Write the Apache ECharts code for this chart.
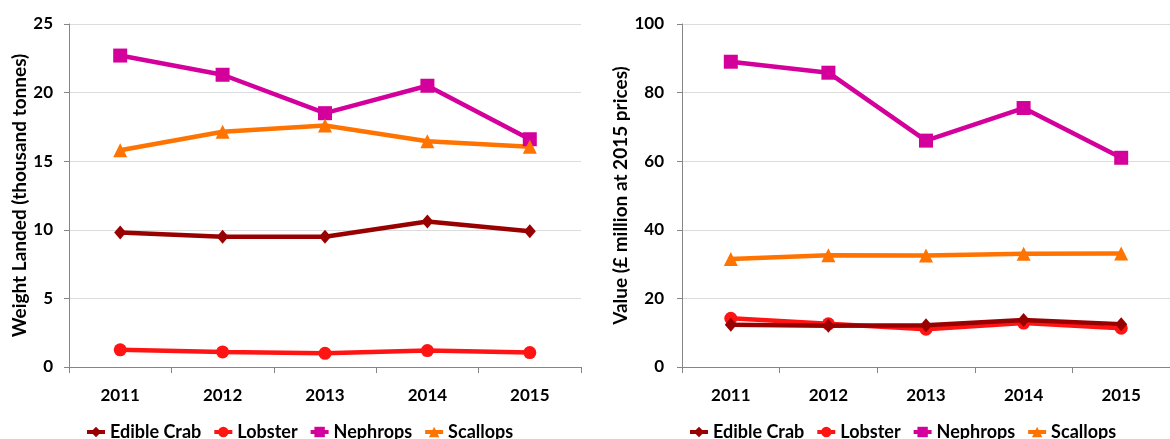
<!DOCTYPE html>
<html>
<head>
<meta charset="utf-8">
<script src="https://cdn.jsdelivr.net/npm/echarts@6/dist/echarts.min.js"></script>
<style>
html,body{margin:0;padding:0;background:#fff;}
#c{width:1170px;height:439px;}
</style>
</head>
<body>
<div id="c"></div>
<script>
const years = ['2011','2012','2013','2014','2015'];
const seriesNames = ['Edible Crab','Lobster','Nephrops','Scallops'];
// Weight landed (thousand tonnes)
const weightCrab = [9.8, 9.5, 9.5, 10.6, 9.9];
const weightLobster = [1.25, 1.1, 1.0, 1.2, 1.05];
const weightNephrops = [22.7, 21.3, 18.5, 20.5, 16.6];
const weightScallops = [15.8, 17.15, 17.6, 16.45, 16.05];
// Value (£ million at 2015 prices)
const valueCrab = [12.3, 12.0, 12.2, 13.7, 12.5];
const valueLobster = [14.2, 12.6, 11.0, 12.8, 11.3];
const valueNephrops = [89.0, 85.8, 66.0, 75.5, 61.0];
const valueScallops = [31.5, 32.6, 32.5, 33.0, 33.1];

const colors = ['#990000','#FF1414','#D4009B','#FF7300'];
const symbols = ['diamond','circle','rect','triangle'];
const symSizes = [[12,14],13,14,14];
const FONT = 'Lato';

const chart = echarts.init(document.getElementById('c'), null, {renderer:'canvas'});

function mkSeries(name, idx, data, axisIdx){
  return {
    name: name, type:'line', xAxisIndex: axisIdx, yAxisIndex: axisIdx,
    data: data, symbol: symbols[idx], symbolSize: symSizes[idx],
    lineStyle:{width:4.5, color: colors[idx]},
    itemStyle:{color: colors[idx]},
    emphasis:{disabled:true}, animation:false, z: 2 + (idx===0?1:0)
  };
}

function xAx(gi){
  return {
    type:'category', gridIndex: gi, data: years, boundaryGap:true,
    axisLine:{lineStyle:{color:'#868686', width:1}},
    axisTick:{show:true, length:6, lineStyle:{color:'#868686'}},
    axisLabel:{color:'#000', fontFamily:FONT, fontWeight:'bold', fontSize:17, margin:20}
  };
}
function yAx(gi, max, interval, name, gap, lm){
  return {
    type:'value', gridIndex: gi, min:0, max:max, interval:interval,
    name: name, nameLocation:'middle', nameGap: gap, nameRotate: 90,
    nameTextStyle:{color:'#000', fontFamily:FONT, fontWeight:'bold', fontSize:19},
    axisLine:{show:true, lineStyle:{color:'#868686', width:1}},
    axisTick:{show:true, length:5, inside:false, lineStyle:{color:'#868686'}},
    axisLabel:{color:'#000', fontFamily:FONT, fontWeight:'bold', fontSize:17, margin:lm},
    splitLine:{show:true, lineStyle:{color:'#DCDCDC', width:1}}
  };
}

const legendText = {color:'#000', fontFamily:FONT, fontWeight:'bold', fontSize:18};
const legendBase = {data: seriesNames, top:423, padding:0, itemGap:11, itemWidth:18, itemHeight:13,
  textStyle:legendText, selectedMode:false, lineStyle:{width:4}};

chart.setOption({
  backgroundColor:'#fff',
  animation:false,
  color: colors,
  grid:[
    {left:69, top:24, width:512, height:343},
    {left:682, top:24, width:501, height:343}
  ],
  legend:[
    Object.assign({left:85}, legendBase),
    Object.assign({left:688}, legendBase)
  ],
  xAxis:[xAx(0), xAx(1)],
  yAxis:[
    yAx(0, 25, 5, 'Weight Landed (thousand tonnes)', 40, 16),
    yAx(1, 100, 20, 'Value (£ million at 2015 prices)', 51, 18)
  ],
  series:[
    mkSeries('Edible Crab',0,weightCrab,0),
    mkSeries('Lobster',1,weightLobster,0),
    mkSeries('Nephrops',2,weightNephrops,0),
    mkSeries('Scallops',3,weightScallops,0),
    mkSeries('Edible Crab',0,valueCrab,1),
    mkSeries('Lobster',1,valueLobster,1),
    mkSeries('Nephrops',2,valueNephrops,1),
    mkSeries('Scallops',3,valueScallops,1)
  ]
});
</script>
</body>
</html>
